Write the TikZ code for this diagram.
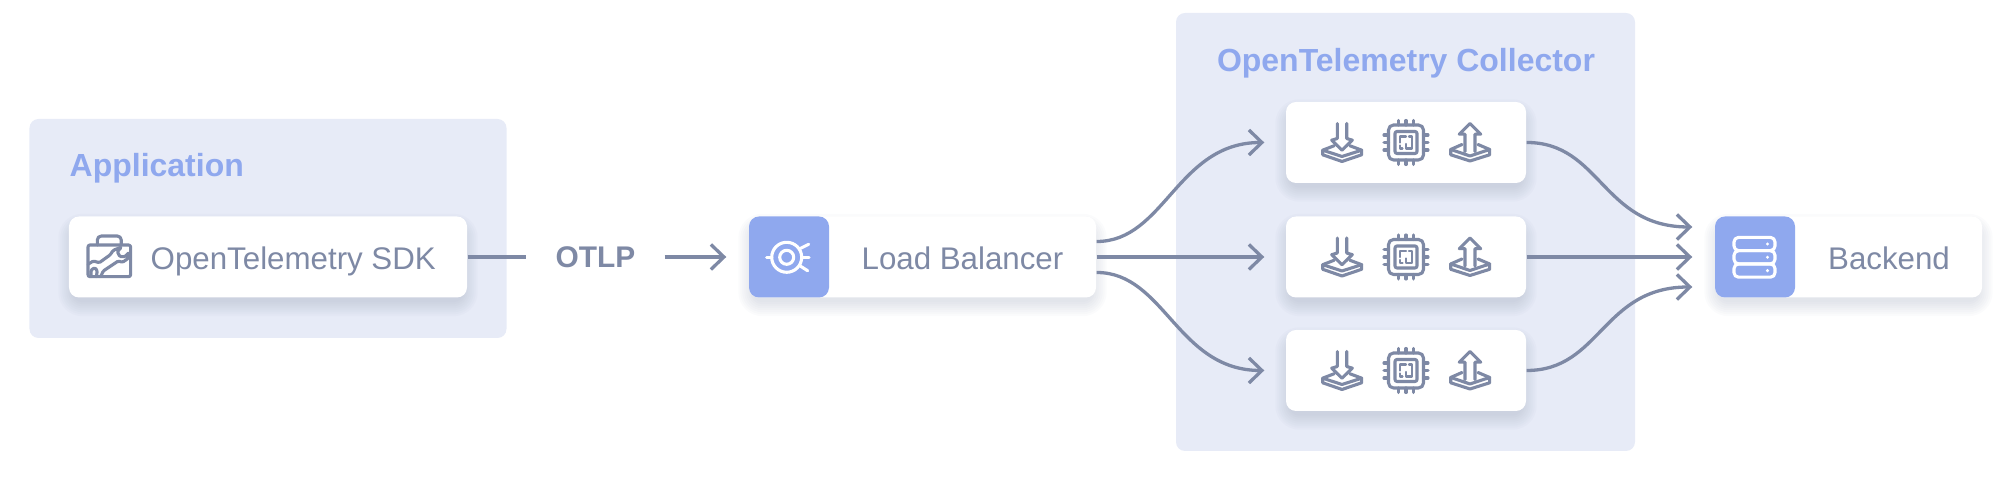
\documentclass[tikz,border=0pt]{standalone}
\usepackage{fontspec}
\setmainfont{Liberation Sans}
\usetikzlibrary{arrows.meta,backgrounds,calc}
\definecolor{linec}{HTML}{7E89A5}
\definecolor{accent}{HTML}{8FA8EE}
\definecolor{panelc}{HTML}{E7EBF7}
\tikzset{
  panel/.style={fill=panelc,rounded corners=.09cm,inner sep=0},
  card/.style={fill=white,rounded corners=.1cm,inner sep=0,minimum height=.81cm},
  blue part/.style={path picture={\fill[accent] (path picture bounding box.south west) rectangle ([xshift=.8cm]path picture bounding box.north west);}},
  cardtext/.style={text=linec,inner sep=0,font=\fontsize{8.9}{10}\selectfont},
  paneltitle/.style={text=accent,inner sep=0,font=\fontsize{9.1}{10}\selectfont\bfseries},
  flow/.style={draw=linec,line width=.033cm},
  flowto/.style={flow,-{Straight Barb[length=.13cm,width=.25cm,line width=.033cm]},shorten >=#1},
  ico/.style={draw=#1,line width=.031cm,line join=round,line cap=round},
  importicon/.pic={
    \draw[ico=linec] (-8,-3.3) -- (-19.3,-7.7) -- (-19.3,-12.3) -- (0,-19) -- (19.7,-12.3) -- (19.7,-7.7) -- (8,-3.3);
    \draw[ico=linec] (-19.3,-7.7) -- (0,-14) -- (19.7,-7.7);
    \draw[ico=linec] (-4.7,19) -- (-4.7,4) -- (-10.3,2.3) -- (0,-7.7) -- (10.3,2.3) -- (4.7,4) -- (4.7,19);
  },
  exporticon/.pic={
    \draw[ico=linec] (-8,-2) -- (-19.3,-7) -- (-19.3,-12.3) -- (0,-18.5) -- (19.7,-12.3) -- (19.7,-7) -- (8,-2);
    \draw[ico=linec] (-19.3,-7) -- (0,-13.5) -- (19.7,-7);
    \draw[ico=linec] (-5,-9) -- (-5,8.3) -- (-10.7,8.3) -- (0,19) -- (10.7,8.3) -- (5,8.3) -- (5,-9);
  },
  chipicon/.pic={
    \draw[ico=linec,rounded corners=.05cm] (-17.5,-17.5) rectangle (17.5,17.5);
    \draw[ico=linec,rounded corners=.02cm] (-11,-11) rectangle (11,11);
    \foreach \p in {-7.5,0,7.5} {
      \draw[ico=linec] (\p,17.5) -- (\p,22);
      \draw[ico=linec] (\p,-17.5) -- (\p,-22);
      \draw[ico=linec] (17.5,\p) -- (22,\p);
      \draw[ico=linec] (-17.5,\p) -- (-22,\p);
    }
    \draw[ico=linec,line width=.022cm] (-6,0) -- (-6,6) -- (0,6);
    \draw[ico=linec,line width=.022cm] (3,6) -- (6,6) -- (6,-6) -- (0,-6) -- (0,-1.5);
    \draw[ico=linec,line width=.022cm] (-6,-3) -- (-6,-6) -- (-3.5,-6);
  },
  toolicon/.pic={
    \draw[ico=linec,rounded corners=.02cm] (-21.3,-15.7) rectangle (21.3,16);
    \draw[ico=linec,rounded corners=.04cm] (-12,16) -- (-12,25) -- (12,25) -- (12,16);
    \draw[ico=linec,rounded corners=.012cm] (-21.3,-3.3) -- (-16,0) -- (-10,-1.7) -- (.7,6) -- (4,10.7) -- (12.3,14) -- (8,9.3) -- (10.7,4.3) -- (15.7,4.3) -- (20,8.7) -- (19,2.7) -- (13.3,-1.3) -- (9,0) -- (-6,-10) -- (-8.7,-15.7);
    \draw[ico=linec,rounded corners=.012cm] (-18.3,-15.7) -- (-18.3,-9) -- (-14.3,-6.7) -- (-12,-10) -- (-13,-15.7);
  },
  hubicon/.pic={
    \draw[ico=white] (0,0) circle (15);
    \draw[ico=white] (0,0) circle (7);
    \draw[ico=white] (-20,0) -- (-15,0);
    \draw[ico=white] (15,0) -- (22.5,0);
    \draw[ico=white] (14,9) -- (22,13);
    \draw[ico=white] (14,-9) -- (21,-13.5);
  },
  servericon/.pic={
    \foreach \q in {13.3,0,-13.3} {
      \draw[ico=white,rounded corners=.045cm] (-20.5,\q-6.6) rectangle (20.5,\q+6.6);
      \fill[white] (13,\q) circle (1.7);
    }
  },
}
\begin{document}
\begin{tikzpicture}
\useasboundingbox (0,0) rectangle (19.99,4.77);
\node[card,minimum width=3.98cm] (sdk) at (2.68,2.2) {};
\node[card,blue part,minimum width=3.47cm] (lb) at (9.225,2.2) {};
\node[card,blue part,minimum width=2.67cm] (backend) at (18.485,2.2) {};
\foreach \row/\y in {1/3.345,2/2.2,3/1.065} {
  \node[card,minimum width=2.4cm] (coll\row) at (14.06,\y) {};
  \pic[scale=.01] at ([xshift=-.64cm]coll\row.center) {importicon};
  \pic[scale=.01] at (coll\row.center) {chipicon};
  \pic[scale=.01] at ([xshift=.64cm]coll\row.center) {exporticon};
}
% panels and soft shadows go under the cards
\begin{scope}[on background layer]
\node[panel,minimum width=4.77cm,minimum height=2.19cm] (apppanel) at (2.68,2.485) {};
\node[panel,minimum width=4.59cm,minimum height=4.38cm] (collpanel) at (14.055,2.45) {};
\foreach \card in {sdk,lb,backend,coll1,coll2,coll3}
  \foreach \g in {0,.02,...,.16}
    \fill[linec,opacity=.03,rounded corners={(.1+\g)*1cm}] ($(\card.south west)+({.04-\g},{-.04-\g})$) rectangle ($(\card.north east)+({\g-.04},{\g-.12})$);
\end{scope}
\node[paneltitle,anchor=west] (apptitle) at (.69,3.085) {Application};
\node[paneltitle] (colltitle) at (14.06,4.135) {OpenTelemetry Collector};
\node[cardtext,anchor=base west] (sdktext) at (1.5,2.07) {OpenTelemetry SDK};
\node[cardtext,anchor=base] (lbtext) at (9.625,2.07) {Load Balancer};
\node[cardtext,anchor=base] (backendtext) at (18.89,2.07) {Backend};
\node[text=linec,inner sep=0,minimum width=1.37cm,font=\fontsize{8.5}{10}\selectfont\bfseries] (otlp) at (5.955,2.2) {OTLP};
\pic[scale=.01] at (1.093,2.16) {toolicon};
\pic[scale=.01] at (7.867,2.197) {hubicon};
\pic[scale=.01] at (17.545,2.197) {servericon};
\draw[flow] (sdk) -- (otlp);
\draw[flowto=.22cm] (otlp) -- (lb);
\draw[flowto=.21cm] ([yshift=.155cm]lb.east) .. controls +(.68,0) and +(-1.08,0) .. (coll1.west);
\draw[flowto=.21cm] (lb.east) -- (coll2.west);
\draw[flowto=.21cm] ([yshift=-.155cm]lb.east) .. controls +(.68,0) and +(-1.08,0) .. (coll3.west);
\draw[flowto=.22cm] (coll1.east) .. controls +(.74,0) and +(-1.12,0) .. ([yshift=.3cm]backend.west);
\draw[flowto=.22cm] (coll2.east) -- (backend.west);
\draw[flowto=.22cm] (coll3.east) .. controls +(.74,0) and +(-1.12,0) .. ([yshift=-.3cm]backend.west);
\end{tikzpicture}
\end{document}
